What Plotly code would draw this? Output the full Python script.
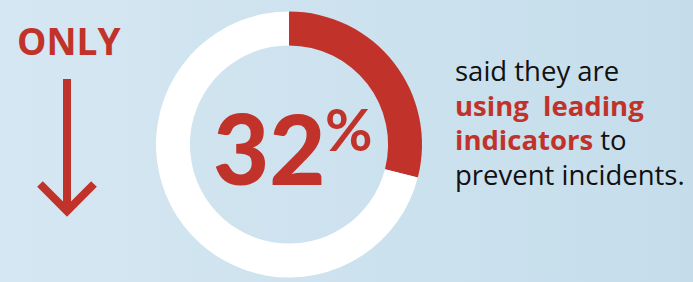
import plotly.graph_objects as go

# Data
labels = ["Using leading indicators", "Not using"]
slice_values = [29, 71]          # slice sizes as drawn in the picture
headline_pct = "32"              # headline number printed in the centre
slice_colors = ["#c1332a", "#ffffff"]

W, H = 693, 282
RED = "#c1332a"

fig = go.Figure()

# background gradient panel
fig.add_trace(go.Scatter(
    x=[0, W, W, 0, 0], y=[0, 0, H, H, 0], mode="lines",
    line=dict(width=0), fill="toself",
    fillgradient=dict(type="horizontal",
                      colorscale=[[0, "#d5e7f2"], [1, "#c5ddeb"]]),
    hoverinfo="skip", showlegend=False, xaxis="x", yaxis="y"))

cx, cy, r = 289, 144.5, 133
fig.add_trace(go.Pie(
    labels=labels, values=slice_values, hole=0.745, sort=False,
    direction="clockwise", rotation=0,
    marker=dict(colors=slice_colors, line=dict(width=0)),
    textinfo="none", hoverinfo="label+value", showlegend=False,
    domain=dict(x=[(cx - r) / W, (cx + r) / W],
                y=[(H - cy - r) / H, (H - cy + r) / H])))

# arrow
fig.add_shape(type="line", xref="x", yref="y", x0=67, y0=79, x1=67, y1=210,
              line=dict(color=RED, width=8))
fig.add_shape(type="path", xref="x", yref="y",
              path="M 40 184 L 67 211 L 94 184",
              line=dict(color=RED, width=8))

ann = []
ann.append(dict(x=15, y=40, text="<b>ONLY</b>", xanchor="left", yanchor="middle",
                font=dict(family="Open Sans", size=37, color=RED)))
ann.append(dict(x=328, y=147, text=headline_pct, xanchor="right",
                yanchor="middle",
                font=dict(family="Lato", size=97, color=RED, weight=900)))
ann.append(dict(x=323, y=128, text="%", xanchor="left", yanchor="middle",
                font=dict(family="Lato", size=58, color=RED, weight=700)))

lines = ["said they are",
         "<b><span style='color:%s'>using&nbsp; leading</span></b>" % RED,
         "<b><span style='color:%s'>indicators</span></b> to" % RED,
         "prevent incidents."]
ys = [70, 105, 139, 174]
for t, yy in zip(lines, ys):
    ann.append(dict(x=453, y=yy, text=t, xanchor="left", yanchor="middle",
                    font=dict(family="Open Sans", size=27.5, color="#111111")))

for a in ann:
    a.update(xref="x", yref="y", showarrow=False)

fig.update_layout(
    width=W, height=H, margin=dict(l=0, r=0, t=0, b=0),
    paper_bgcolor="#cfe3ee", plot_bgcolor="rgba(0,0,0,0)",
    xaxis=dict(range=[0, W], visible=False, fixedrange=True),
    yaxis=dict(range=[H, 0], visible=False, fixedrange=True),
    annotations=ann, showlegend=False)

fig.write_html("out.html", config={"displayModeBar": False},
               post_script="document.body.style.margin='0';"
                           "document.body.style.background='#cfe3ee';")
